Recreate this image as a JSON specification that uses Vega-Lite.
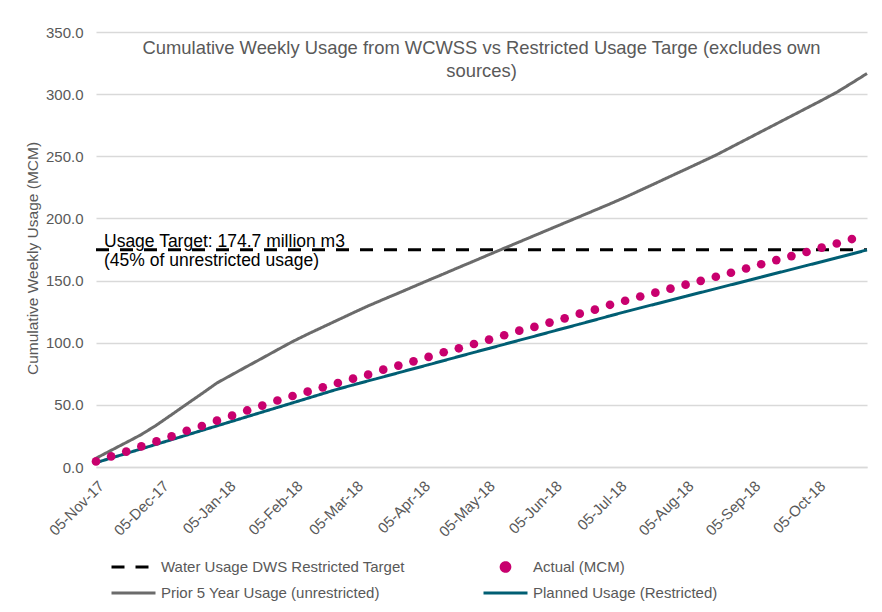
{
  "$schema": "https://vega.github.io/schema/vega-lite/v6.json",
  "width": 771,
  "height": 435,
  "autosize": {"type": "none"},
  "padding": {"left": 96, "top": 32, "right": 15, "bottom": 145},
  "background": "white",
  "config": {
    "font": "Liberation Sans",
    "view": {"stroke": null}
  },
  "title": {
    "text": ["Cumulative Weekly Usage from WCWSS vs Restricted Usage Targe (excludes own", "sources)"],
    "fontSize": 18.4,
    "fontWeight": "normal",
    "color": "#595959",
    "font": "Liberation Sans",
    "anchor": "middle",
    "frame": "group",
    "baseline": "top",
    "lineHeight": 23,
    "offset": -10,
    "dy": 45
  },
  "data": {
    "values": [
      {"date": "2017-11-05", "target": 174.7, "prior": 7.0, "planned": 3.5, "actual": 4.5},
      {"date": "2017-11-12", "target": 174.7, "prior": 13.4, "planned": 7.2, "actual": 8.5},
      {"date": "2017-11-19", "target": 174.7, "prior": 19.7, "planned": 10.9, "actual": 12.4},
      {"date": "2017-11-26", "target": 174.7, "prior": 26.1, "planned": 14.6, "actual": 16.6},
      {"date": "2017-12-03", "target": 174.7, "prior": 33.7, "planned": 18.3, "actual": 20.6},
      {"date": "2017-12-10", "target": 174.7, "prior": 42.1, "planned": 22.0, "actual": 24.6},
      {"date": "2017-12-17", "target": 174.7, "prior": 50.6, "planned": 25.7, "actual": 29.2},
      {"date": "2017-12-24", "target": 174.7, "prior": 59.0, "planned": 29.4, "actual": 33.0},
      {"date": "2017-12-31", "target": 174.7, "prior": 67.6, "planned": 33.1, "actual": 37.3},
      {"date": "2018-01-07", "target": 174.7, "prior": 74.3, "planned": 36.8, "actual": 41.3},
      {"date": "2018-01-14", "target": 174.7, "prior": 81.0, "planned": 40.5, "actual": 45.5},
      {"date": "2018-01-21", "target": 174.7, "prior": 87.6, "planned": 44.2, "actual": 49.4},
      {"date": "2018-01-28", "target": 174.7, "prior": 94.3, "planned": 47.9, "actual": 53.5},
      {"date": "2018-02-04", "target": 174.7, "prior": 100.9, "planned": 51.6, "actual": 57.1},
      {"date": "2018-02-11", "target": 174.7, "prior": 106.9, "planned": 55.3, "actual": 60.6},
      {"date": "2018-02-18", "target": 174.7, "prior": 112.6, "planned": 59.0, "actual": 64.1},
      {"date": "2018-02-25", "target": 174.7, "prior": 118.3, "planned": 62.7, "actual": 67.6},
      {"date": "2018-03-04", "target": 174.7, "prior": 124.0, "planned": 66.0, "actual": 71.1},
      {"date": "2018-03-11", "target": 174.7, "prior": 129.6, "planned": 69.3, "actual": 74.3},
      {"date": "2018-03-18", "target": 174.7, "prior": 134.8, "planned": 72.5, "actual": 78.3},
      {"date": "2018-03-25", "target": 174.7, "prior": 139.9, "planned": 75.8, "actual": 81.6},
      {"date": "2018-04-01", "target": 174.7, "prior": 145.1, "planned": 79.1, "actual": 85.0},
      {"date": "2018-04-08", "target": 174.7, "prior": 150.3, "planned": 82.3, "actual": 88.6},
      {"date": "2018-04-15", "target": 174.7, "prior": 155.4, "planned": 85.6, "actual": 92.3},
      {"date": "2018-04-22", "target": 174.7, "prior": 160.6, "planned": 88.9, "actual": 95.5},
      {"date": "2018-04-29", "target": 174.7, "prior": 165.7, "planned": 92.2, "actual": 99.0},
      {"date": "2018-05-06", "target": 174.7, "prior": 170.9, "planned": 95.4, "actual": 102.5},
      {"date": "2018-05-13", "target": 174.7, "prior": 176.0, "planned": 98.7, "actual": 106.0},
      {"date": "2018-05-20", "target": 174.7, "prior": 181.1, "planned": 102.0, "actual": 109.7},
      {"date": "2018-05-27", "target": 174.7, "prior": 186.2, "planned": 105.2, "actual": 112.7},
      {"date": "2018-06-03", "target": 174.7, "prior": 191.3, "planned": 108.5, "actual": 116.2},
      {"date": "2018-06-10", "target": 174.7, "prior": 196.4, "planned": 111.8, "actual": 119.6},
      {"date": "2018-06-17", "target": 174.7, "prior": 201.5, "planned": 115.0, "actual": 123.4},
      {"date": "2018-06-24", "target": 174.7, "prior": 206.6, "planned": 118.3, "actual": 126.6},
      {"date": "2018-07-01", "target": 174.7, "prior": 211.7, "planned": 121.6, "actual": 130.5},
      {"date": "2018-07-08", "target": 174.7, "prior": 217.0, "planned": 124.9, "actual": 133.8},
      {"date": "2018-07-15", "target": 174.7, "prior": 222.6, "planned": 128.0, "actual": 137.2},
      {"date": "2018-07-22", "target": 174.7, "prior": 228.2, "planned": 131.1, "actual": 140.3},
      {"date": "2018-07-29", "target": 174.7, "prior": 233.9, "planned": 134.2, "actual": 143.5},
      {"date": "2018-08-05", "target": 174.7, "prior": 239.5, "planned": 137.3, "actual": 146.7},
      {"date": "2018-08-12", "target": 174.7, "prior": 245.2, "planned": 140.4, "actual": 149.8},
      {"date": "2018-08-19", "target": 174.7, "prior": 250.9, "planned": 143.5, "actual": 153.1},
      {"date": "2018-08-26", "target": 174.7, "prior": 257.2, "planned": 146.6, "actual": 156.3},
      {"date": "2018-09-02", "target": 174.7, "prior": 263.5, "planned": 149.7, "actual": 159.7},
      {"date": "2018-09-09", "target": 174.7, "prior": 269.8, "planned": 152.8, "actual": 163.1},
      {"date": "2018-09-16", "target": 174.7, "prior": 276.1, "planned": 155.9, "actual": 166.5},
      {"date": "2018-09-23", "target": 174.7, "prior": 282.4, "planned": 159.0, "actual": 169.7},
      {"date": "2018-09-30", "target": 174.7, "prior": 288.7, "planned": 162.1, "actual": 173.0},
      {"date": "2018-10-07", "target": 174.7, "prior": 295.0, "planned": 165.2, "actual": 176.5},
      {"date": "2018-10-14", "target": 174.7, "prior": 301.5, "planned": 168.3, "actual": 179.8},
      {"date": "2018-10-21", "target": 174.7, "prior": 309.0, "planned": 171.4, "actual": 183.4},
      {"date": "2018-10-28", "target": 174.7, "prior": 316.6, "planned": 174.7}
    ]
  },
  "transform": [
    {"fold": ["target", "actual", "prior", "planned"], "as": ["series", "value"]},
    {"filter": "isValid(datum.value)"}
  ],
  "encoding": {
    "x": {
      "field": "date",
      "type": "temporal",
      "scale": {
        "type": "utc",
        "domain": [
          {"year": 2017, "month": 11, "date": 5, "utc": true},
          {"year": 2018, "month": 10, "date": 28, "utc": true}
        ]
      },
      "axis": {
        "title": null,
        "values": [
          {"year": 2017, "month": 11, "date": 5, "utc": true},
          {"year": 2017, "month": 12, "date": 5, "utc": true},
          {"year": 2018, "month": 1, "date": 5, "utc": true},
          {"year": 2018, "month": 2, "date": 5, "utc": true},
          {"year": 2018, "month": 3, "date": 5, "utc": true},
          {"year": 2018, "month": 4, "date": 5, "utc": true},
          {"year": 2018, "month": 5, "date": 5, "utc": true},
          {"year": 2018, "month": 6, "date": 5, "utc": true},
          {"year": 2018, "month": 7, "date": 5, "utc": true},
          {"year": 2018, "month": 8, "date": 5, "utc": true},
          {"year": 2018, "month": 9, "date": 5, "utc": true},
          {"year": 2018, "month": 10, "date": 5, "utc": true}
        ],
        "format": "%d-%b-%y",
        "labelAngle": -45,
        "labelFontSize": 15,
        "labelColor": "#595959",
        "labelPadding": 11,
        "labelDx": -2,
        "ticks": false,
        "grid": false,
        "domainColor": "#d9d9d9",
        "domainWidth": 1.5,
        "labelOverlap": false
      }
    },
    "y": {
      "field": "value",
      "type": "quantitative",
      "scale": {"domain": [0, 350], "nice": false},
      "axis": {
        "title": "Cumulative Weekly Usage (MCM)",
        "titleFontSize": 15.5,
        "titleFontWeight": "normal",
        "titleColor": "#595959",
        "titleX": -64,
        "titleY": 226,
        "titleAngle": 270,
        "titleAlign": "center",
        "titleBaseline": "middle",
        "values": [0, 50, 100, 150, 200, 250, 300, 350],
        "format": ".1f",
        "labelFontSize": 15,
        "labelColor": "#595959",
        "labelPadding": 13,
        "ticks": false,
        "domain": false,
        "gridColor": "#d9d9d9",
        "gridWidth": 1.5
      }
    },
    "color": {
      "field": "series",
      "type": "nominal",
      "scale": {
        "domain": ["target", "prior", "actual", "planned"],
        "range": ["#000000", "#6b6b6b", "#c8006e", "#005e73"]
      },
      "legend": {
        "title": null,
        "orient": "none",
        "legendX": 14,
        "legendY": 525,
        "columns": 2,
        "columnPadding": 77,
        "rowPadding": 6,
        "padding": 0,
        "symbolType": "stroke",
        "symbolSize": 1936,
        "symbolStrokeWidth": 3,
        "symbolOffset": 0,
        "clipHeight": 20,
        "labelOffset": 4,
        "labelFontSize": 15,
        "labelColor": "#595959",
        "labelLimit": 400,
        "labelExpr": "datum.value === 'target' ? 'Water Usage DWS Restricted Target' : datum.value === 'actual' ? 'Actual (MCM)' : datum.value === 'prior' ? 'Prior 5 Year Usage (unrestricted)' : 'Planned Usage (Restricted)'",
        "encode": {
          "symbols": {
            "update": {
              "shape": {"signal": "datum.value === 'actual' ? 'circle' : 'stroke'"},
              "size": {"signal": "datum.value === 'actual' ? 75 : 1936"},
              "fill": {"signal": "datum.value === 'actual' ? '#c8006e' : 'transparent'"},
              "stroke": {"signal": "datum.value === 'actual' ? 'transparent' : datum.value === 'target' ? '#000000' : datum.value === 'prior' ? '#6b6b6b' : '#005e73'"},
              "strokeWidth": {"value": 3},
              "strokeDash": {"signal": "datum.value === 'target' ? [13, 11] : [1, 0]"},
              "opacity": {"value": 1}
            }
          }
        }
      }
    }
  },
  "layer": [
    {
      "transform": [{"filter": "datum.series !== 'actual'"}],
      "mark": {"type": "line", "strokeWidth": 3},
      "encoding": {
        "strokeDash": {
          "field": "series",
          "type": "nominal",
          "scale": {
            "domain": ["target", "prior", "planned"],
            "range": [[13, 11], [1, 0], [1, 0]]
          },
          "legend": null
        }
      }
    },
    {
      "transform": [{"filter": "datum.series === 'actual'"}],
      "mark": {"type": "circle", "size": 75, "opacity": 1}
    },
    {
      "data": {"values": [{"date": "2017-11-05", "value": 174.7}]},
      "transform": [],
      "mark": {
        "type": "text",
        "align": "left",
        "baseline": "middle",
        "dx": 8,
        "dy": -8,
        "fontSize": 17.5,
        "lineHeight": 19,
        "color": "#000000"
      },
      "encoding": {
        "x": {"field": "date", "type": "temporal"},
        "y": {"field": "value", "type": "quantitative"},
        "text": {"value": ["Usage Target: 174.7 million m3", "(45% of unrestricted usage)"]},
        "color": {"value": "#000000"}
      }
    }
  ]
}
